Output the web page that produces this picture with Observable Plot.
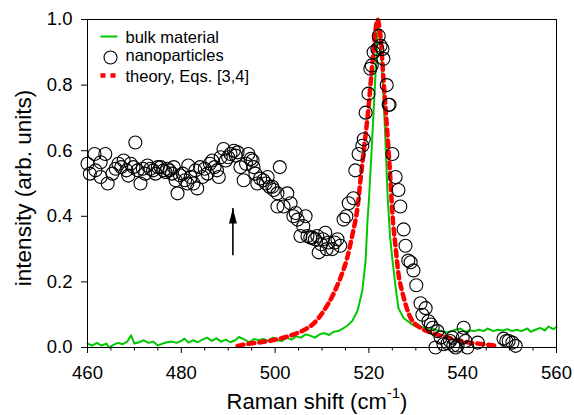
<!DOCTYPE html>
<html>
<head>
<meta charset="utf-8">
<script src="https://cdn.jsdelivr.net/npm/d3@7"></script>
<script src="https://cdn.jsdelivr.net/npm/@observablehq/plot@0.6"></script>
<style>
  html, body { margin: 0; padding: 0; background: white; }
</style>
</head>
<body>
<div id="chart"></div>
<script>
// ---- data ----
const bulk = [[460,0.012],[461,0.006],[462,0.014],[463,0.006],[464,0.012],[464.6,0.0],[465.5,0.008],[466.5,0.014],[467.5,0.01],[468.5,0.018],[469.3,0.037],[470,0.012],[471,0.016],[472,0.022],[473,0.014],[474,0.018],[475,0.006],[476,0.012],[477,0.016],[478,0.018],[479,0.014],[480,0.02],[480.7,0.027],[481.5,0.015],[482.5,0.022],[483.5,0.016],[484.5,0.024],[485.5,0.03],[486.5,0.02],[487.5,0.028],[488.5,0.018],[489.5,0.024],[490.5,0.016],[491.5,0.022],[492.3,0.032],[493.5,0.024],[494.5,0.016],[495.5,0.026],[496.5,0.022],[497.5,0.026],[498.5,0.02],[499.5,0.03],[500.5,0.022],[501.5,0.02],[502.5,0.03],[503.5,0.024],[504.5,0.034],[505.5,0.03],[506.5,0.04],[507.5,0.036],[508.5,0.03],[509.5,0.04],[510.5,0.044],[511.5,0.038],[512.5,0.048],[513.5,0.05],[514.5,0.058],[515.5,0.068],[516.5,0.082],[517.6,0.113],[518.6,0.174],[519.3,0.265],[519.7,0.387],[520,0.448],[520.5,0.58],[521,0.72],[521.5,0.86],[522,1.0],[522.5,0.93],[523,0.8],[523.5,0.64],[524,0.46],[524.5,0.34],[525,0.27],[525.7,0.183],[526.3,0.12],[527.4,0.09],[528.9,0.073],[530.4,0.061],[531.5,0.062],[532.5,0.056],[533.5,0.058],[534.6,0.052],[535.5,0.05],[536.8,0.046],[537.5,0.05],[538.5,0.054],[539.5,0.058],[540.5,0.048],[541.5,0.052],[542.5,0.05],[543.5,0.054],[544.5,0.05],[545.3,0.058],[546.5,0.05],[547.5,0.054],[548.5,0.052],[549.5,0.056],[550.5,0.05],[551.5,0.054],[552.5,0.05],[553.8,0.058],[554.5,0.048],[555.5,0.054],[556.5,0.06],[557.5,0.052],[558.3,0.064],[559.3,0.056],[560,0.062]];

const theory = [[492,0.005],[493,0.008],[494.7,0.012],[496.9,0.016],[499.4,0.022],[501.8,0.03],[504,0.04],[506,0.052],[508.2,0.073],[510.3,0.11],[512.5,0.165],[514,0.215],[515.4,0.275],[516.5,0.345],[517.6,0.43],[518.2,0.51],[518.9,0.6],[519.7,0.7],[520.8,0.875],[521.4,0.966],[521.8,1.0],[522.5,0.945],[523.1,0.82],[524,0.64],[524.6,0.51],[525,0.41],[525.7,0.305],[526.3,0.225],[527.2,0.165],[528.9,0.09],[531,0.06],[533.8,0.043],[537.4,0.028],[541,0.016],[544.4,0.01],[547.4,0.005]];

const nano = [[460.0,0.56],[460.5,0.53],[461.5,0.59],[461.7,0.54],[462.8,0.565],[462.8,0.52],[463.8,0.59],[464.3,0.50],[465.3,0.53],[466.0,0.545],[466.6,0.56],[467.2,0.55],[467.7,0.57],[468.3,0.54],[468.7,0.524],[469.2,0.56],[469.8,0.55],[470.2,0.625],[470.7,0.54],[471.3,0.50],[471.8,0.545],[472.3,0.53],[472.8,0.555],[473.4,0.545],[474.0,0.54],[474.5,0.53],[475.0,0.55],[475.6,0.55],[476.2,0.54],[476.6,0.535],[477.0,0.545],[477.5,0.54],[478.0,0.53],[478.4,0.55],[478.8,0.51],[479.2,0.47],[479.7,0.525],[480.3,0.53],[480.8,0.51],[481.3,0.50],[481.5,0.555],[482.0,0.52],[482.6,0.50],[483.0,0.54],[483.4,0.485],[484.0,0.55],[484.5,0.52],[485.0,0.545],[485.6,0.53],[486.1,0.56],[486.6,0.57],[487.1,0.55],[487.6,0.54],[488.0,0.52],[488.4,0.58],[489.0,0.605],[489.5,0.57],[490.0,0.58],[490.5,0.59],[491.2,0.60],[491.6,0.585],[492.0,0.595],[492.6,0.55],[493.3,0.51],[493.8,0.56],[494.3,0.59],[494.8,0.575],[495.2,0.57],[495.4,0.55],[495.8,0.53],[496.2,0.50],[496.8,0.515],[497.5,0.51],[498.0,0.50],[498.4,0.52],[498.8,0.49],[499.4,0.49],[499.7,0.48],[500.5,0.47],[501.0,0.55],[500.5,0.43],[501.8,0.43],[502.6,0.47],[503.3,0.44],[503.9,0.40],[504.4,0.41],[504.8,0.39],[505.4,0.34],[506.0,0.37],[506.5,0.40],[506.9,0.34],[507.5,0.335],[508.0,0.335],[508.5,0.33],[509.0,0.34],[509.3,0.29],[509.8,0.315],[510.2,0.33],[510.7,0.35],[511.0,0.30],[511.4,0.32],[512.2,0.30],[512.7,0.32],[513.3,0.33],[513.9,0.31],[514.6,0.39],[515.2,0.40],[515.7,0.44],[516.7,0.455],[517.1,0.54],[517.8,0.59],[518.6,0.615],[518.9,0.635],[519.3,0.716],[519.9,0.774],[520.3,0.85],[520.6,0.86],[521.0,0.90],[521.8,0.91],[522.1,0.95],[522.5,0.92],[522.9,0.91],[523.1,0.88],[523.8,0.80],[524.2,0.74],[524.4,0.74],[525.0,0.59],[525.7,0.52],[526.3,0.48],[526.7,0.43],[527.4,0.36],[527.8,0.31],[528.4,0.265],[528.9,0.26],[529.5,0.235],[530.1,0.19],[531.0,0.135],[531.4,0.10],[532.1,0.12],[532.7,0.08],[533.2,0.07],[533.6,0.06],[534.2,0.0],[534.6,0.05],[535.3,0.03],[535.9,0.01],[536.8,0.013],[537.3,0.02],[537.8,0.03],[538.0,0.006],[538.5,0.0],[538.9,0.006],[540.0,0.03],[540.2,0.06],[540.6,0.02],[541.0,0.0],[543.2,0.015],[548.7,0.027],[549.3,0.02],[549.8,0.02],[550.6,0.015],[551.3,0.005]];

const xTicks = [460, 480, 500, 520, 540, 560];
const xMinorTicks = [465, 470, 475, 485, 490, 495, 505, 510, 515, 525, 530, 535, 545, 550, 555];
const yTicks = [0, 0.2, 0.4, 0.6, 0.8, 1.0];
const legendLabels = ["bulk material", "nanoparticles", "theory, Eqs. [3,4]"];
const arrow = [{x: 491, y1: 0.28, y2: 0.424}];
const xTitle = "Raman shift (cm";
const xTitleSup = "-1";
const xTitleEnd = ")";
const yTitle = "intensity (arb. units)";

// ---- styles ----
const GREEN = "#00c800";
const RED = "#ff0000";
const FONT = "'Liberation Sans', Arial, Helvetica, sans-serif";

const hLine = {
  draw(context, size) {
    const r = Math.sqrt(size / Math.PI);
    context.moveTo(-r, 0);
    context.lineTo(r, 0);
  }
};
const arrowHead = {
  draw(context) {
    context.moveTo(0, 0);
    context.lineTo(4, 15);
    context.lineTo(-4, 15);
    context.closePath();
  }
};

const chart = Plot.plot({
  width: 574,
  height: 415,
  marginTop: 19,
  marginRight: 18,
  marginBottom: 68,
  marginLeft: 87,
  style: {fontFamily: FONT, background: "white", color: "black", overflow: "visible"},
  x: {domain: [460, 560]},
  y: {domain: [0, 1]},
  marks: [
    Plot.line(bulk, {x: d => d[0], y: d => d[1], stroke: GREEN, strokeWidth: 2}),
    Plot.line(theory, {x: d => d[0], y: d => d[1], stroke: RED, strokeWidth: 4.5,
      strokeDasharray: "6,5", curve: "monotone-x"}),
    Plot.dot(nano, {x: d => d[0], y: d => d[1], r: 6.5, stroke: "black", strokeWidth: 1.1, fill: "none"}),
    // arrow
    Plot.ruleX(arrow, {x: "x", y1: "y1", y2: "y2", stroke: "black", strokeWidth: 1.6}),
    Plot.dot(arrow, {x: "x", y: "y2", symbol: arrowHead, fill: "black", stroke: "none", r: 5}),
    // frame & axes
    Plot.frame({stroke: "black", strokeWidth: 1}),
    Plot.axisX({ticks: xMinorTicks, tickSize: 3.5, tickFormat: () => "", label: null, strokeWidth: 1}),
    Plot.axisX({ticks: xTicks, tickSize: 6, tickPadding: 12, fontSize: 18.5, label: null, tickFormat: d3.format("d"), strokeWidth: 1}),
    Plot.axisY({ticks: yTicks, tickSize: 6, tickPadding: 9, fontSize: 18.5, label: null, tickFormat: d3.format(".1f"), strokeWidth: 1}),
    // axis titles
    Plot.text([xTitle], {text: d => d, frameAnchor: "bottom", dx: -5, dy: 54.5, fontSize: 22,
      textAnchor: "middle", lineAnchor: "middle"}),
    Plot.text([yTitle], {text: d => d, frameAnchor: "left", dx: -64, dy: 4.5, rotate: -90, fontSize: 22.5,
      textAnchor: "middle", lineAnchor: "middle"}),
    // legend
    Plot.dot([0], {frameAnchor: "top-left", dx: 21.5, dy: 17, symbol: hLine, r: 8.5, stroke: GREEN, strokeWidth: 2, fill: "none"}),
    Plot.dot([0], {frameAnchor: "top-left", dx: 23, dy: 38, r: 6.5, stroke: "black", strokeWidth: 1.1, fill: "none"}),
    Plot.dot([0], {frameAnchor: "top-left", dx: 20.5, dy: 56, symbol: hLine, r: 7.5, stroke: RED, strokeWidth: 4.5, strokeDasharray: "5,5", fill: "none"}),
    Plot.text([legendLabels[0]], {text: d => d, frameAnchor: "top-left", dx: 38, dy: 18.5, textAnchor: "start", lineAnchor: "middle", fontSize: 16.5}),
    Plot.text([legendLabels[1]], {text: d => d, frameAnchor: "top-left", dx: 38, dy: 36, textAnchor: "start", lineAnchor: "middle", fontSize: 16.5}),
    Plot.text([legendLabels[2]], {text: d => d, frameAnchor: "top-left", dx: 38, dy: 57, textAnchor: "start", lineAnchor: "middle", fontSize: 16.5})
  ]
});

document.getElementById("chart").appendChild(chart);

// superscript in the x title
d3.select(chart).selectAll("text")
  .filter(function() { return this.textContent === xTitle; })
  .each(function() {
    const t = d3.select(this);
    t.text(null);
    t.append("tspan").text(xTitle);
    t.append("tspan").attr("dy", -11).attr("font-size", 15).text(xTitleSup);
    t.append("tspan").attr("dy", 11).text(xTitleEnd);
  });
</script>
</body>
</html>
